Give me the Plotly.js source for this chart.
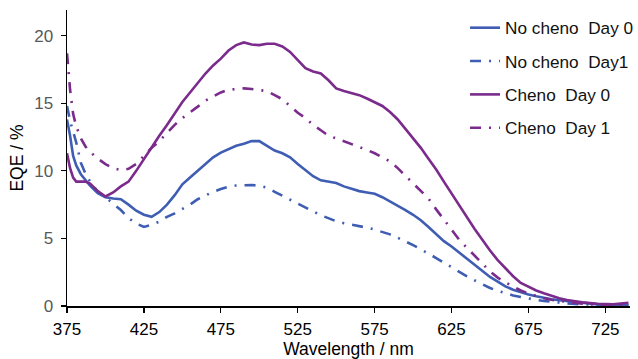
<!DOCTYPE html>
<html>
<head>
<meta charset="utf-8">
<script src="https://cdn.plot.ly/plotly-3.0.1.min.js"></script>
<style>html,body{margin:0;padding:0;background:#fff;}#chart{width:638px;height:359px;}</style>
</head>
<body>
<div id="chart"></div>
<script>
var wavelength = [375,377,379,381,384,387,390,
  395,400,405,410,415,420,425,430,435,440,
  445,450,455,460,465,470,475,480,485,490,
  495,500,505,510,515,520,525,530,535,540,
  545,550,555,560,565,570,575,580,585,590,
  595,600,605,610,615,620,625,630,635,640,
  645,650,655,660,665,670,675,680,685,690,
  695,700,
  710,720,730,740];

var noChenoDay0 = [13.8,12.6,11.1,10.4,9.75,9.3,8.9,
  8.35,8.05,7.95,7.9,7.5,7.05,6.75,6.6,6.95,7.5,
  8.2,9.0,9.5,10.0,10.55,11.0,11.35,11.6,11.85,12.0,
  12.2,12.2,11.85,11.5,11.3,11.0,10.5,10.05,9.6,9.3,
  9.2,9.1,8.85,8.65,8.5,8.4,8.3,8.05,7.75,7.4,
  7.1,6.75,6.35,5.85,5.3,4.8,4.4,3.95,3.55,3.1,
  2.6,2.15,1.8,1.45,1.2,1.0,0.85,0.72,0.6,0.5,
  0.43,0.36,
  0.22,0.12,0.07,0.05];

var noChenoDay1 = [14.8,13.7,12.9,12.1,10.6,9.8,9.2,
  8.45,8.05,7.6,7.1,6.5,6.1,5.85,6.0,6.25,6.6,
  6.85,7.15,7.5,7.9,8.2,8.45,8.65,8.82,8.92,8.96,
  8.95,8.9,8.75,8.45,8.15,7.85,7.6,7.3,7.0,6.72,
  6.5,6.27,6.12,6.02,5.9,5.8,5.65,5.5,5.3,5.05,
  4.8,4.5,4.2,3.9,3.55,3.2,2.85,2.5,2.2,1.9,
  1.6,1.33,1.12,0.93,0.78,0.67,0.55,0.45,0.37,0.3,
  0.25,0.2,
  0.12,0.08,0.05,0.05];

var chenoDay0 = [11.3,10.2,9.5,9.2,9.2,9.2,9.05,
  8.5,8.1,8.4,8.85,9.2,10.0,10.9,11.8,12.6,13.4,
  14.3,15.1,15.8,16.5,17.2,17.8,18.3,18.9,19.3,19.5,
  19.35,19.3,19.4,19.4,19.2,18.8,18.2,17.6,17.35,17.2,
  16.7,16.1,15.9,15.75,15.6,15.35,15.1,14.8,14.35,13.8,
  13.1,12.4,11.7,10.9,10.1,9.2,8.3,7.5,6.6,5.7,
  4.9,4.1,3.4,2.8,2.2,1.7,1.4,1.15,0.95,0.75,
  0.58,0.44,
  0.27,0.17,0.13,0.24];

var chenoDay1 = [18.7,16.0,14.2,13.3,12.4,11.8,11.4,
  10.9,10.5,10.2,10.05,10.15,10.5,11.1,11.7,12.2,12.8,
  13.4,13.9,14.3,14.75,15.2,15.5,15.8,16.0,16.07,16.1,
  16.05,16.0,15.9,15.6,15.3,14.8,14.3,13.9,13.4,13.0,
  12.6,12.4,12.2,12.0,11.8,11.55,11.3,11.0,10.7,10.2,
  9.65,9.1,8.55,7.95,7.15,6.4,5.65,4.9,4.3,3.75,
  3.15,2.55,2.1,1.75,1.43,1.15,0.92,0.72,0.57,0.46,
  0.38,0.3,
  0.17,0.08,0.06,0.08];

var seriesNames = ['No cheno\u00a0\u00a0Day 0', 'No cheno\u00a0\u00a0Day1', 'Cheno\u00a0\u00a0Day 0', 'Cheno\u00a0\u00a0Day 1'];
var xTicks = [375,425,475,525,575,625,675,725];
var yTicks = [0,5,10,15,20];

var BLUE = '#3F5DB3';
var PURPLE = '#7A2B8C';
var DASHDOT = '11px,8px,2px,8px';

var traces = [
  {x: wavelength, y: noChenoDay0, name: seriesNames[0], legendgroup: 'a', line: {color: BLUE, width: 2.6}},
  {x: wavelength, y: noChenoDay1, name: seriesNames[1], legendgroup: 'b', line: {color: BLUE, width: 2.6, dash: DASHDOT}},
  {x: wavelength, y: chenoDay0, name: seriesNames[2], legendgroup: 'c', line: {color: PURPLE, width: 2.6}},
  {x: wavelength, y: chenoDay1, name: seriesNames[3], legendgroup: 'd', line: {color: PURPLE, width: 2.6, dash: DASHDOT}}
].map(function(t){ t.type='scatter'; t.mode='lines'; return t; });

var layout = {
  width: 638, height: 359,
  margin: {l: 67, r: 8, t: 10, b: 53, autoexpand: false},
  paper_bgcolor: '#fff', plot_bgcolor: '#fff',
  font: {family: '"Liberation Sans", Arial, sans-serif', size: 17, color: '#000'},
  showlegend: true,
  legend: {x: 0.707, xanchor: 'left', y: 1.0, yanchor: 'top', bgcolor: 'rgba(0,0,0,0)',
    font: {size: 17.2, color: '#111'}, itemwidth: 30, tracegroupgap: 8},
  xaxis: {
    range: [375, 741], tickvals: xTicks, ticktext: xTicks.map(String),
    ticks: 'outside', ticklen: 5, tickwidth: 1.3, tickcolor: '#000',
    showline: true, linecolor: '#000', linewidth: 1.5,
    showgrid: false, zeroline: false, ticklabelstandoff: 2,
    tickfont: {size: 17, color: '#000'},
    title: {text: 'Wavelength / nm', font: {size: 17.5, color: '#000'}, standoff: 3}
  },
  yaxis: {
    range: [0, 21.9], tickvals: yTicks,
    ticks: 'outside', ticklen: 5, tickwidth: 1.3, tickcolor: '#000',
    showline: true, linecolor: '#000', linewidth: 1.5,
    showgrid: false, zeroline: false, ticklabelstandoff: 4,
    tickfont: {size: 17, color: '#595959'},
    title: {text: 'EQE / %', font: {size: 17.5, color: '#000'}, standoff: 6}
  }
};

Plotly.newPlot('chart', traces, layout, {displayModeBar: false, staticPlot: true});
</script>
</body>
</html>
